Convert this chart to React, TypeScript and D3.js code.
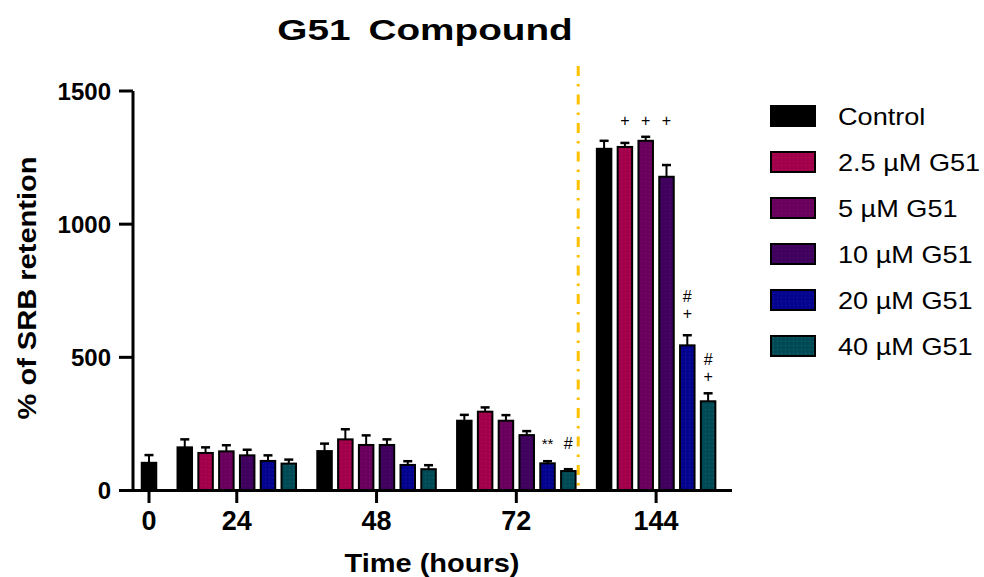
import React from "react";
import * as d3 from "d3";

// time points on the x axis (group labels)
const timePoints = ["0", "24", "48", "72", "144"];

const seriesNames = ["Control", "2.5 µM G51", "5 µM G51", "10 µM G51", "20 µM G51", "40 µM G51"];
const seriesColors = ["#000000", "#a0004c", "#6a005e", "#40005e", "#04048f", "#004a55"];
const dotColors = ["#000000", "#c8103c", "#7e1070", "#52106e", "#1a1aa8", "#1a6470"];

// mean values (% of SRB retention), null = not measured
const controlMean = [104, 162, 148, 262, 1283];
const g25Mean = [null, 141, 192, 296, 1290];
const g5Mean = [null, 147, 171, 262, 1313];
const g10Mean = [null, 132, 171, 208, 1178];
const g20Mean = [null, 111, 96, 102, 545];
const g40Mean = [null, 101, 80, 73, 335];

// error (upper bar only)
const controlErr = [29, 30, 28, 22, 30];
const g25Err = [null, 21, 38, 16, 15];
const g5Err = [null, 23, 36, 21, 15];
const g10Err = [null, 21, 21, 15, 44];
const g20Err = [null, 21, 14, 8, 38];
const g40Err = [null, 15, 15, 7, 30];

const yTicks = [0, 500, 1000, 1500];

// significance marks: value = y position of bottom line
const marks = [
  { time: "72", series: 4, lines: ["**"], value: 178 },
  { time: "72", series: 5, lines: ["#"], value: 178 },
  { time: "144", series: 1, lines: ["+"], value: 1390 },
  { time: "144", series: 2, lines: ["+"], value: 1390 },
  { time: "144", series: 3, lines: ["+"], value: 1390 },
  { time: "144", series: 4, lines: ["#", "+"], value: 666 },
  { time: "144", series: 5, lines: ["#", "+"], value: 430 },
];

const means = [controlMean, g25Mean, g5Mean, g10Mean, g20Mean, g40Mean];
const errs = [controlErr, g25Err, g5Err, g10Err, g20Err, g40Err];

const font = "'Liberation Sans', Arial, sans-serif";

const App = () => {
  const width = 984;
  const height = 577;
  const axisLeft = 133;
  const axisBottom = 490.5;
  const step = 20.8;
  const gapUnits = 0.72;
  const barW = 14.5;

  // unit offsets for each group (bars + gap)
  const groupCount = timePoints.map((t, gi) => means.filter((m) => m[gi] != null).length);
  const groupStart: number[] = [];
  let u = 0;
  groupCount.forEach((n) => {
    groupStart.push(u);
    u += n + gapUnits;
  });

  const x = d3.scaleLinear().domain([0, 1]).range([149, 149 + step]);
  const y = d3.scaleLinear().domain([0, 1500]).range([axisBottom, 91]);

  const barX = (gi: number, si: number) => x(groupStart[gi] + si);
  const groupCenter = (gi: number) => x(groupStart[gi] + (groupCount[gi] - 1) / 2);

  const bars: any[] = [];
  means.forEach((m, si) => {
    m.forEach((v, gi) => {
      if (v == null) return;
      bars.push({ si, gi, v, e: errs[si][gi] as number });
    });
  });

  const dividerX = (x(groupStart[3] + 5) + x(groupStart[4])) / 2 - 8;

  return (
    <svg width={width} height={height} style={{ position: "absolute", left: 0, top: 0 }} fontFamily={font}>
      <defs>
        {seriesColors.map((c, i) => (
          <pattern key={i} id={`pat${i}`} width={4} height={4} patternUnits="userSpaceOnUse">
            <rect width={4} height={4} fill={c} />
            <rect x={1} y={1} width={1} height={1} fill={dotColors[i]} />
          </pattern>
        ))}
      </defs>
      <rect width={width} height={height} fill="#fff" />
      <text transform="translate(425, 40) scale(1.29, 1)" textAnchor="middle" fontWeight="bold" fontSize={30}>
        <tspan>G51</tspan>
        <tspan dx={14}>Compound</tspan>
      </text>

      {/* y axis */}
      <line x1={axisLeft} x2={axisLeft} y1={y(1500)} y2={axisBottom} stroke="#000" strokeWidth={3} />
      {yTicks.map((t) => (
        <g key={t}>
          <line x1={119} x2={axisLeft} y1={y(t)} y2={y(t)} stroke="#000" strokeWidth={3} />
          <text x={111} y={y(t) + 8.5} textAnchor="end" fontWeight="bold" fontSize={24}>
            {t}
          </text>
        </g>
      ))}
      <text
        transform={`translate(36, 288) rotate(-90)`}
        textAnchor="middle"
        fontWeight="bold"
        fontSize={25}
        textLength={263}
        lengthAdjust="spacingAndGlyphs"
      >
        % of SRB retention
      </text>

      {/* divider */}
      <line x1={dividerX} x2={dividerX} y1={66} y2={axisBottom} stroke="#ffc000" strokeWidth={3} strokeDasharray="10 8 2.5 8" />

      {/* bars */}
      {bars.map((b) => {
        const cx = barX(b.gi, b.si);
        return (
          <g key={`${b.si}-${b.gi}`}>
            <line x1={cx} x2={cx} y1={y(b.v)} y2={y(b.v + b.e)} stroke="#000" strokeWidth={2} />
            <line x1={cx - 4.5} x2={cx + 4.5} y1={y(b.v + b.e)} y2={y(b.v + b.e)} stroke="#000" strokeWidth={2.5} />
            <rect
              x={cx - barW / 2}
              y={y(b.v)}
              width={barW}
              height={axisBottom - y(b.v)}
              fill={`url(#pat${b.si})`}
              stroke="#000"
              strokeWidth={2}
            />
          </g>
        );
      })}

      {/* marks */}
      {marks.map((m, i) => {
        const gi = timePoints.indexOf(m.time);
        const cx = barX(gi, m.series);
        const n = m.lines.length;
        return (
          <g key={i}>
            {m.lines.map((l, li) => (
              <text
                key={li}
                x={cx}
                y={y(m.value) - (n - 1 - li) * 17 + 6}
                textAnchor="middle"
                fontSize={l === "**" ? 15 : 16}
                fill="#000"
              >
                {l}
              </text>
            ))}
          </g>
        );
      })}

      {/* x axis */}
      <line x1={120} x2={732} y1={axisBottom} y2={axisBottom} stroke="#000" strokeWidth={3} />
      {timePoints.map((t, gi) => (
        <g key={t}>
          <line x1={groupCenter(gi)} x2={groupCenter(gi)} y1={axisBottom} y2={503} stroke="#000" strokeWidth={3} />
          <text x={groupCenter(gi)} y={530} textAnchor="middle" fontWeight="bold" fontSize={27}>
            {t}
          </text>
        </g>
      ))}
      <text x={432} y={572} textAnchor="middle" fontWeight="bold" fontSize={26} textLength={175} lengthAdjust="spacingAndGlyphs">
        Time (hours)
      </text>

      {/* legend */}
      {seriesNames.map((s, i) => {
        const top = 106 + i * 46;
        return (
          <g key={s}>
            <rect x={771} y={top} width={44} height={20} fill={`url(#pat${i})`} stroke="#000" strokeWidth={2} />
            <text transform={`translate(838, ${top + 19}) scale(1.13, 1)`} fontSize={24}>
              {s}
            </text>
          </g>
        );
      })}
    </svg>
  );
};

export default App;
